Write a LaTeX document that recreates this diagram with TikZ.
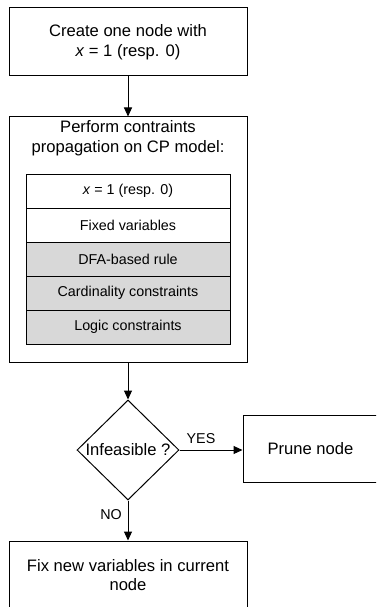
\documentclass[tikz,border=0pt]{standalone}
\usepackage{fontspec}
\setmainfont{Liberation Sans}
\usetikzlibrary{shapes.geometric,arrows.meta}
\tikzset{
  big/.style={font=\fontsize{16.6}{19.7}\selectfont, align=center},
  small/.style={font=\fontsize{14.3}{17}\selectfont, align=center},
  box/.style={draw=black, line width=1pt, inner sep=0pt},
  row/.style={draw=black, line width=1pt, inner sep=0pt, minimum width=204pt, minimum height=34pt, small},
  greyrow/.style={row, fill=cellgrey},
  arr/.style={draw=black, line width=1pt, -{Triangle[width=8pt,length=9pt]}},
}
\definecolor{cellgrey}{HTML}{D8D8D8}
\begin{document}
\begin{tikzpicture}[x=1pt,y=-1pt]
\useasboundingbox (0,0) rectangle (376,607);
\clip (0,0) rectangle (376,607);
% top box
\node[box, big, minimum width=238pt, minimum height=68pt] (create) at (128,42) {Create one node with\\\textit{x} = 1 (resp. 0)};
% outer box
\node[box, minimum width=238pt, minimum height=245pt] (outer) at (128,239.5) {};
\node[big, inner sep=0pt] (ptitle) at (128,138.5) {Perform contraints\\propagation on CP model:};
% rows
\node[row] (r1) at (128,191) {\textit{x} = 1 (resp. 0)};
\node[row] (r2) at (128,225) {Fixed variables};
\node[greyrow] (r3) at (128,259) {DFA-based rule};
\node[greyrow] (r4) at (128,293) {Cardinality constraints};
\node[greyrow] (r5) at (128,327) {Logic constraints};
% diamond
\node[draw=black, line width=1pt, diamond, inner sep=0pt, minimum width=102pt, minimum height=100pt] (dec) at (128,450) {};
\node[big, inner sep=0pt] (dectext) at (128,450) {Infeasible ?};
% prune
\node[box, minimum width=141pt, minimum height=67pt] (prune) at (313.5,449) {};
\node[big, inner sep=0pt] (prunetext) at (310.5,449) {Prune node};
% bottom
\node[box, big, minimum width=238pt, minimum height=68pt] (fix) at (128,575) {Fix new variables in current\\node};
% labels
\node[small, inner sep=0pt] (yes) at (201,439) {YES};
\node[small, inner sep=0pt] (no) at (111,515) {NO};
% arrows
\draw[arr] (create.south) -- (outer.north);
\draw[arr] (outer.south) -- (dec.north);
\draw[arr] (dec.east) -- (dec.east -| prune.west);
\draw[arr] (dec.south) -- (fix.north);
\end{tikzpicture}
\end{document}
